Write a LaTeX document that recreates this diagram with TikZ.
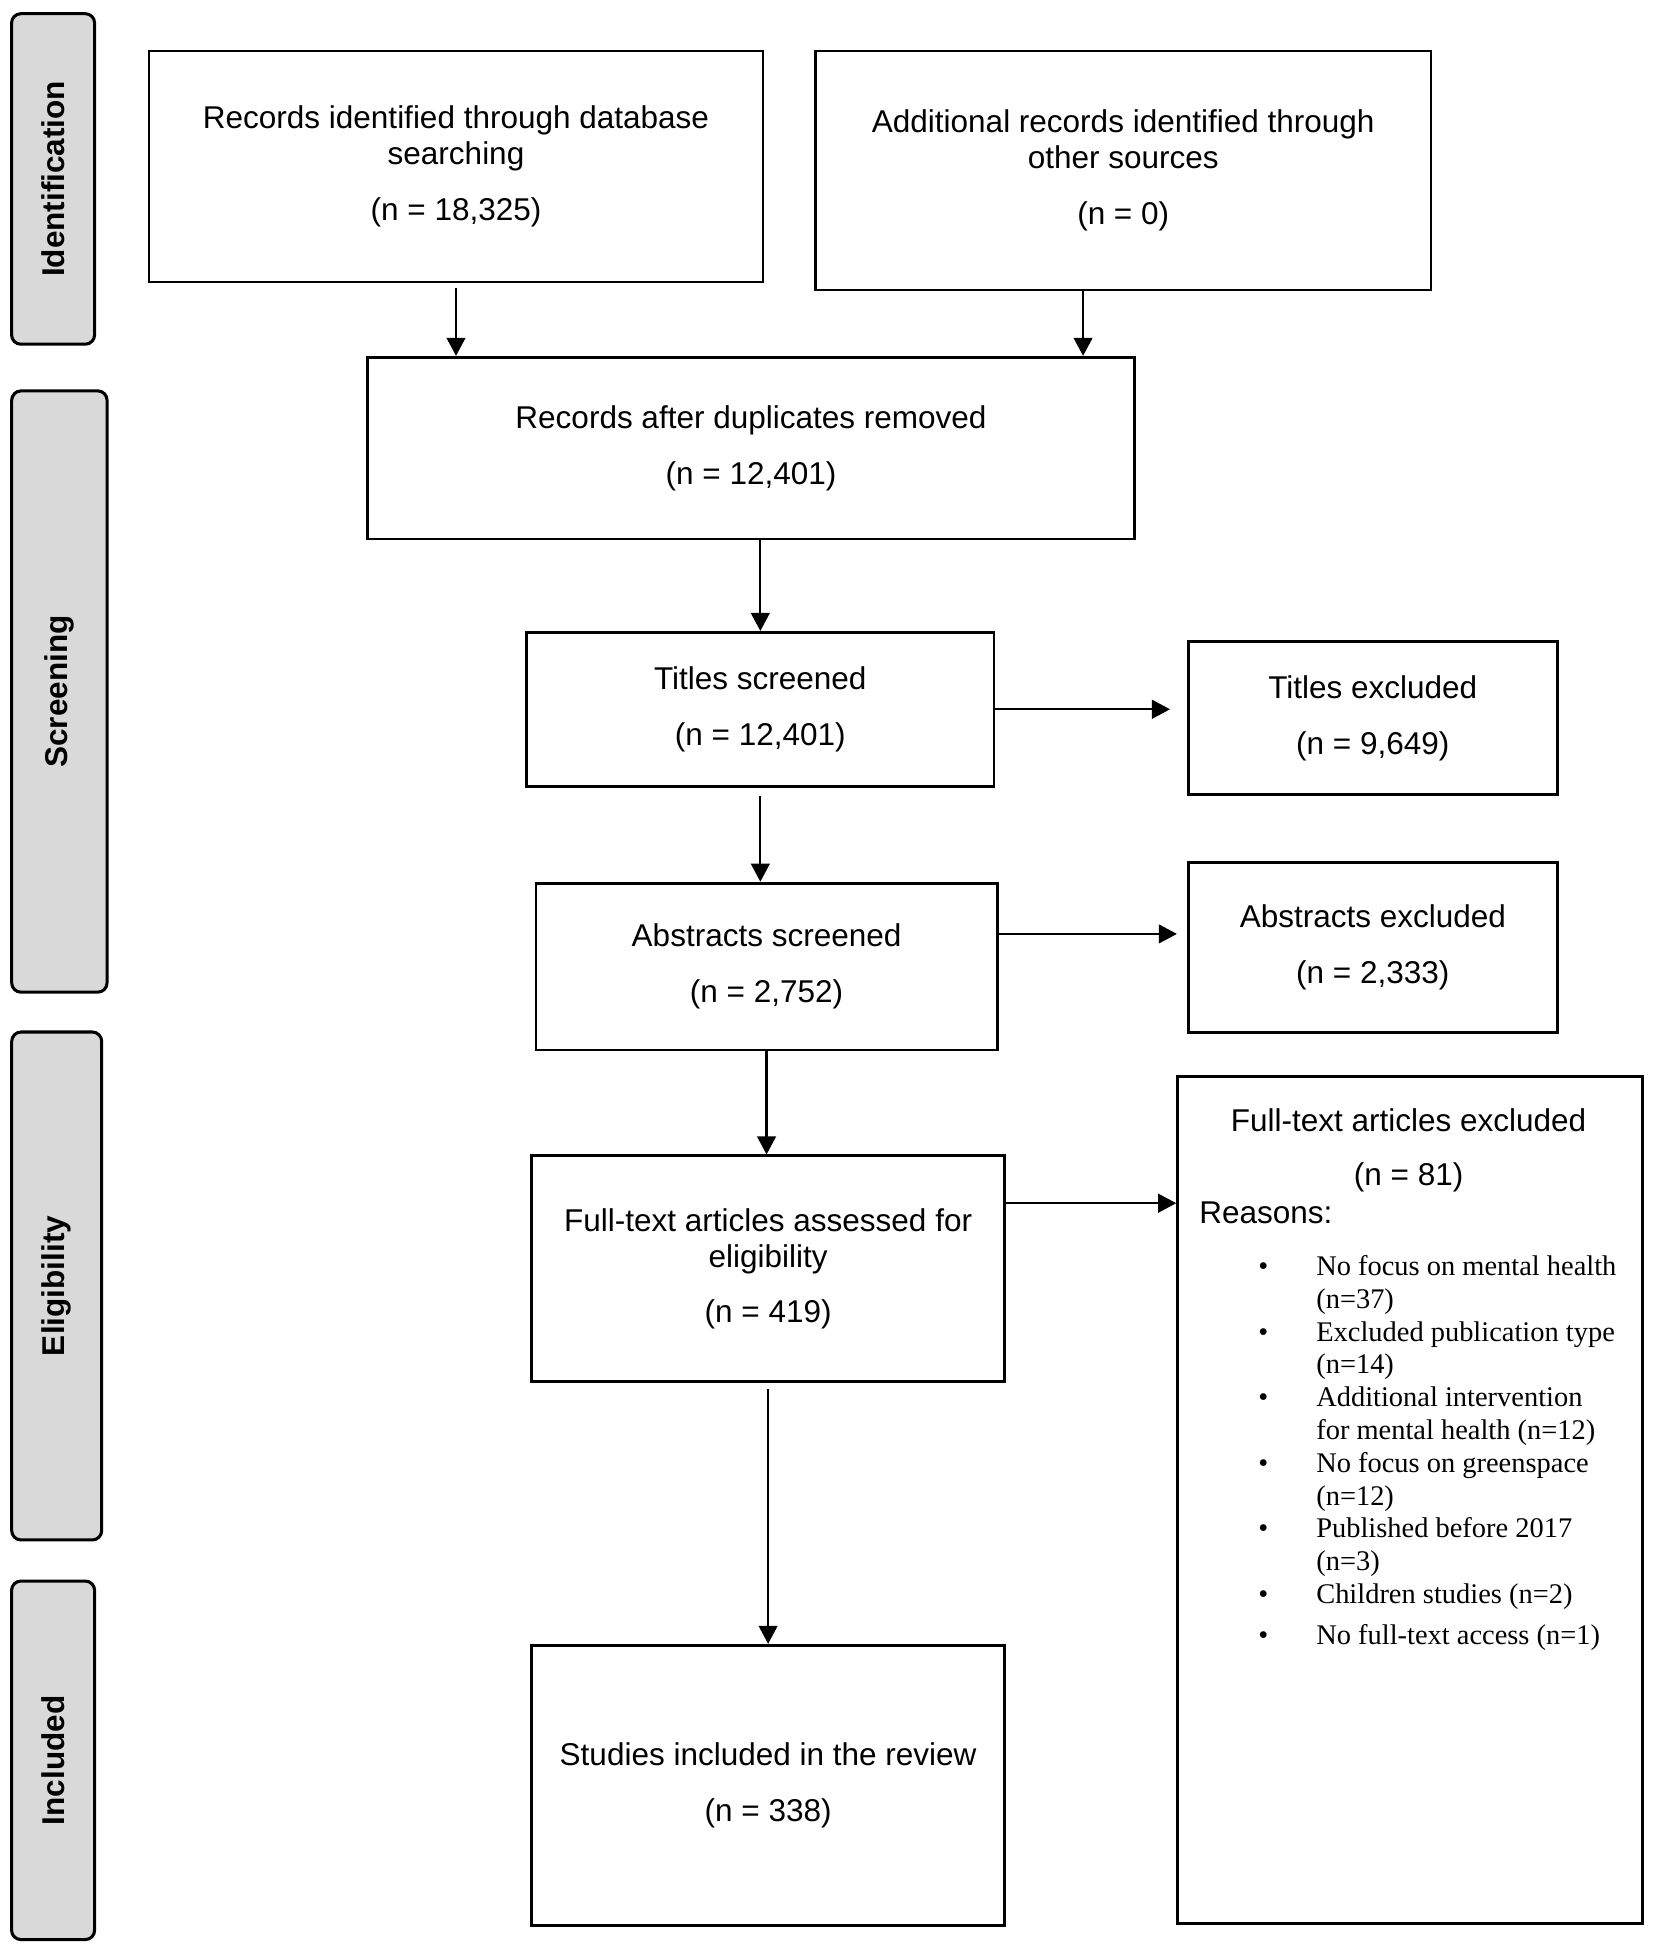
\documentclass[tikz,border=0pt]{standalone}
\usepackage{fontspec}
\setmainfont{Liberation Sans}
\newfontfamily\itemfont{Liberation Serif}
\usetikzlibrary{arrows.meta}
\definecolor{phasegray}{RGB}{217,217,217}
\newcommand{\boxfont}{\fontsize{14.4pt}{16.5pt}\selectfont}
\tikzstyle{phase}=[draw,line width=1.4pt,fill=phasegray,rounded corners=0.15cm,inner sep=0pt,rotate=90,font=\boxfont\bfseries]
\tikzstyle{box}=[draw,line width=1.3pt,align=center,inner sep=0pt]
\tikzstyle{arrow}=[draw,line width=1pt,-{Triangle[length=0.29cm,width=0.3cm]}]
\tikzstyle{plain}=[inner sep=0pt]
\tikzstyle{reasons}=[inner sep=0pt,font=\itemfont\fontsize{13pt}{15pt}\selectfont]

\begin{document}
\begin{tikzpicture}[font=\boxfont]
   \useasboundingbox (0,0) rectangle (26.57,-31.36);
   \foreach \pos/\name/\w/\h/\txt in {{(0.853,-2.875)/idf/1.334/5.31/Identification},
        {(0.954,-11.11)/scr/1.532/9.66/Screening}, {(0.911,-20.66)/elg/1.446/8.16/Eligibility},
        {(0.853,-28.28)/inc/1.334/5.76/Included}}
        \node[phase,minimum width=\h cm,minimum height=\w cm] (\name) at \pos {\txt};
   \foreach \pos/\name/\w/\h/\txt in {
        {(7.326,-2.675)/rec/9.864/3.71/{Records identified through database\\searching\\[9pt](n = 18,325)}},
        {(18.045,-2.74)/add/9.89/3.84/{Additional records identified through\\other sources\\[9pt](n = 0)}},
        {(12.065,-7.2)/dup/12.31/2.92/{Records after duplicates removed\\[9pt](n = 12,401)}},
        {(12.215,-11.395)/tit/7.51/2.47/{Titles screened\\[9pt](n = 12,401)}},
        {(22.055,-11.54)/tex/5.93/2.46/{Titles excluded\\[9pt](n = 9,649)}},
        {(12.315,-15.528)/abs/7.41/2.68/{Abstracts screened\\[9pt](n = 2,752)}},
        {(22.055,-15.225)/aex/5.93/2.73/{Abstracts excluded\\[9pt](n = 2,333)}},
        {(12.34,-20.385)/ful/7.6/3.63/{Full-text articles assessed for\\eligibility\\[9pt](n = 419)}},
        {(12.34,-28.683)/stu/7.6/4.502/{Studies included in the review\\[9pt](n = 338)}},
        {(22.655,-24.1)/fex/7.47/13.6/{}}}
        \node[box,minimum width=\w cm,minimum height=\h cm] (\name) at \pos {\txt};
   % text of the exclusion box
   \node[plain,anchor=base] (fext) at (22.63,-18.18) {Full-text articles excluded};
   \node[plain,anchor=base] (fexn) at (22.63,-19.05) {(n = 81)};
   \node[plain,anchor=base west] (why) at (19.26,-19.66) {Reasons:};
   \node[reasons,anchor=base west] (list) at (20.21,-20.49) {\begin{tabular}[t]{@{}c@{\hspace{0.77cm}}l@{}}
        \textbullet & No focus on mental health\\
         & (n=37)\\
        \textbullet & Excluded publication type\\
         & (n=14)\\
        \textbullet & Additional intervention\\
         & for mental health (n=12)\\
        \textbullet & No focus on greenspace\\
         & (n=12)\\
        \textbullet & Published before 2017\\
         & (n=3)\\
        \textbullet & Children studies (n=2)\\[3.5pt]
        \textbullet & No full-text access (n=1)
        \end{tabular}};
   % downward flow
   \coordinate (addout) at ([xshift=-0.645cm]add.south);
   \path[arrow,shorten <=0.08cm] (rec.south) -- (rec.south |- dup.north);
   \path[arrow] (addout) -- (addout |- dup.north);
   \path[arrow] (tit.north |- dup.south) -- (tit.north);
   \path[arrow,shorten <=0.13cm] (tit.south) -- (tit.south |- abs.north);
   \path[arrow] (abs.south) -- (abs.south |- ful.north);
   \path[arrow,shorten <=0.1cm] (ful.south) -- (stu.north);
   % exclusions
   \coordinate (absout) at ([yshift=0.524cm]abs.east);
   \coordinate (fulout) at ([yshift=1.055cm]ful.east);
   \path[arrow,shorten >=0.27cm] (tit.east) -- (tit.east -| tex.west);
   \path[arrow,shorten >=0.16cm] (absout) -- (absout -| aex.west);
   \path[arrow] (fulout) -- (fulout -| fex.west);
\end{tikzpicture}
\end{document}
